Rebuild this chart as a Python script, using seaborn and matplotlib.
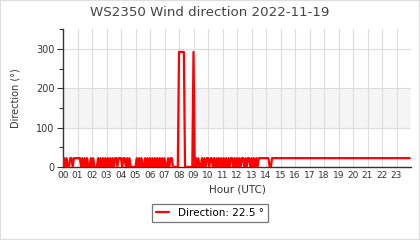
import matplotlib
matplotlib.use("Agg")
import matplotlib.pyplot as plt
import seaborn as sns
import pandas as pd
import numpy as np
from matplotlib.patches import Rectangle
from matplotlib.ticker import MultipleLocator

title = "WS2350 Wind direction 2022-11-19"
x_label = "Hour (UTC)"
y_label = "Direction (°)"
legend_label = "Direction: 22.5 °"
hour_labels = [f"{h:02d}" for h in range(24)]

# wind direction readings, 5-minute steps, one list per hour (00..14)
h00 = [0, 22.5, 0, 22.5, 0, 0, 22.5, 22.5, 0, 22.5, 22.5, 22.5]
h01 = [22.5, 22.5, 22.5, 0, 22.5, 0, 22.5, 0, 22.5, 0, 0, 22.5]
h02 = [0, 22.5, 0, 0, 0, 22.5, 0, 22.5, 0, 22.5, 0, 22.5]
h03 = [0, 22.5, 0, 22.5, 0, 22.5, 0, 22.5, 22.5, 0, 22.5, 22.5]
h04 = [22.5, 0, 22.5, 22.5, 0, 22.5, 0, 22.5, 0, 0, 0, 0]
h05 = [0, 22.5, 0, 22.5, 0, 22.5, 0, 0, 22.5, 0, 22.5, 0]
h06 = [22.5, 0, 22.5, 0, 22.5, 0, 22.5, 0, 22.5, 0, 22.5, 0]
h07 = [22.5, 0, 0, 22.5, 0, 22.5, 22.5, 0, 0, 0, 0, 0]
h08 = [292.5, 292.5, 292.5, 292.5, 292.5, 0, 0, 0, 0, 0, 0, 0]
h09 = [292.5, 0, 22.5, 0, 22.5, 0, 0, 22.5, 0, 22.5, 0, 22.5]
h10 = [22.5, 0, 22.5, 22.5, 0, 22.5, 0, 22.5, 0, 22.5, 0, 22.5]
h11 = [0, 22.5, 0, 22.5, 0, 22.5, 0, 22.5, 22.5, 0, 22.5, 0]
h12 = [22.5, 0, 22.5, 0, 22.5, 22.5, 0, 22.5, 0, 22.5, 22.5, 0]
h13 = [22.5, 0, 22.5, 0, 22.5, 0, 22.5, 22.5, 22.5, 22.5, 22.5, 22.5]
h14 = [22.5, 22.5, 22.5, 0, 0, 22.5, 22.5, 22.5, 22.5, 22.5, 22.5, 22.5]
steady_value = 22.5  # 15:00 .. 23:55

hours_blocks = [h00, h01, h02, h03, h04, h05, h06, h07, h08, h09, h10, h11, h12, h13, h14]
values = [v for blk in hours_blocks for v in blk] + [steady_value] * (9 * 12)
times = np.arange(len(values)) * 5 / 60.0
df = pd.DataFrame({"hour": times, "direction": values})

sns.set_theme(style="white")
plt.rcParams["font.family"] = ["DejaVu Sans"]

fig = plt.figure(figsize=(4.2, 2.4), dpi=100)
ax = fig.add_axes([63 / 420, 1 - 167 / 240, (411 - 63) / 420, (167 - 29.3) / 240])

ax.axhspan(100, 200, color="#f5f5f5", zorder=0, lw=0)
sns.lineplot(data=df, x="hour", y="direction", ax=ax, color="#ff0000",
             lw=1.6, label=legend_label, legend=False, zorder=3)

ax.set_xlim(0, 24)
ax.set_ylim(0, 350)
ax.set_xticks(range(24))
ax.set_xticklabels(hour_labels)
ax.set_yticks([0, 100, 200, 300])
ax.yaxis.set_minor_locator(MultipleLocator(50))
ax.grid(True, which="major", color="#dddddd", lw=0.8)
ax.set_axisbelow(True)

for s in ["top", "right"]:
    ax.spines[s].set_visible(False)
for s in ["left", "bottom"]:
    ax.spines[s].set_color("#333333")
    ax.spines[s].set_linewidth(1.0)

ax.tick_params(axis="x", length=0, pad=3, labelsize=6.5, colors="#333333")
ax.tick_params(axis="y", which="major", length=4, width=0.8, left=True,
               pad=2, labelsize=7, colors="#333333")
ax.tick_params(axis="y", which="minor", length=3, width=0.8, left=True, colors="#333333")

ax.set_xlabel(x_label, fontsize=7.5, color="#333333", labelpad=3)
ax.set_ylabel(y_label, fontsize=7, color="#333333", labelpad=11)
fig.suptitle(title, x=0.5, y=1 - 12 / 240, va="center", fontsize=9.6, color="#444444")

handles, labels = ax.get_legend_handles_labels()
leg = fig.legend(handles, labels, loc="center", bbox_to_anchor=(0.5, 1 - 213 / 240),
                 frameon=True, fancybox=False, framealpha=1, edgecolor="#777777",
                 fontsize=7.5, handlelength=1.2, handletextpad=0.9,
                 borderpad=0.35, borderaxespad=0)
leg.get_frame().set_linewidth(0.9)
for t in leg.get_texts():
    t.set_color("#000000")

fig.patches.append(Rectangle((0, 0), 1, 1, transform=fig.transFigure, fill=False,
                             edgecolor="#dddddd", lw=1.5, zorder=10))

fig.savefig("out.png", dpi=100)
